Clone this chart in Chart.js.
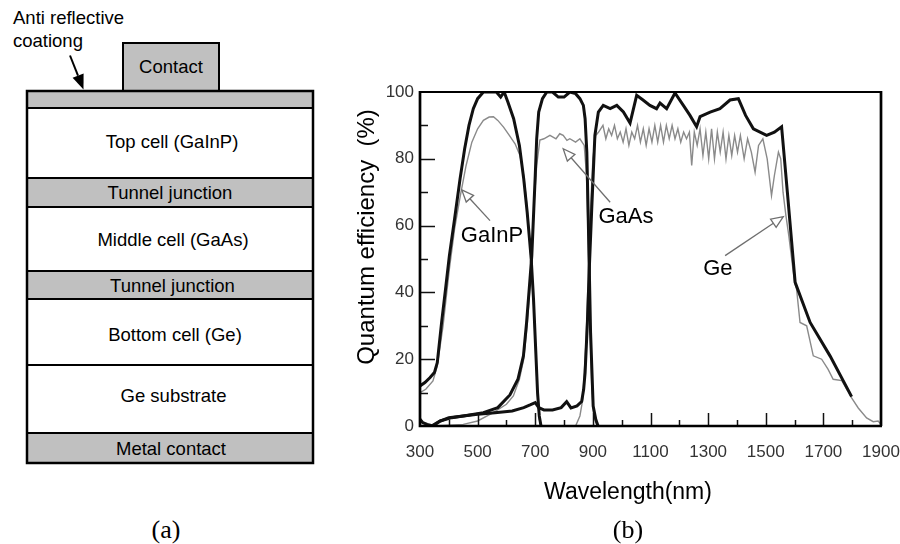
<!DOCTYPE html>
<html>
<head>
<meta charset="utf-8">
<title>Triple-junction cell and quantum efficiency</title>
<script src="https://cdn.jsdelivr.net/npm/chart.js@4.4.1/dist/chart.umd.min.js"></script>
<style>
  html, body { margin: 0; padding: 0; background: #fff; }
  body { width: 900px; height: 544px; position: relative; overflow: hidden; }
  #cell { position: absolute; left: 0; top: 0; }
  #qe { position: absolute; left: 330px; top: 0; }
  .panel { position: absolute; top: 515px; width: 100px; text-align: center; line-height: 30px;
           font: 26px "Liberation Serif", "Times New Roman", serif; color: #000; }
</style>
</head>
<body>

<!-- layer stack of the cell -->
<svg id="cell" width="330" height="480" xmlns="http://www.w3.org/2000/svg">
  <g font-family="'Liberation Sans', Arial, sans-serif" font-size="18.5" fill="#000">
    <text x="13" y="24">Anti reflective</text>
    <text x="13" y="47">coationg</text>
  </g>
  <line x1="70" y1="55.5" x2="78" y2="75.6" stroke="#000" stroke-width="2"/>
  <polygon points="83.5,89.5 72.6,77.7 83.6,73.5" fill="#000"/>

  <g stroke="#000" stroke-width="2">
    <rect x="123" y="43" width="96" height="48" fill="#c0c0c0"/>
    <rect x="27" y="91" width="286" height="17" fill="#c0c0c0"/>
    <rect x="27" y="108" width="286" height="70" fill="#fff"/>
    <rect x="27" y="178" width="286" height="29" fill="#c0c0c0"/>
    <rect x="27" y="207" width="286" height="64" fill="#fff"/>
    <rect x="27" y="271" width="286" height="28" fill="#c0c0c0"/>
    <rect x="27" y="299" width="286" height="66" fill="#fff"/>
    <rect x="27" y="365" width="286" height="68" fill="#fff"/>
    <rect x="27" y="433" width="286" height="30" fill="#c0c0c0"/>
    <rect x="27" y="91" width="286" height="372" fill="none" stroke-width="2.5"/>
  </g>

  <g font-family="'Liberation Sans', Arial, sans-serif" font-size="18.5" fill="#000"
     text-anchor="middle" style="white-space:pre">
    <text x="171" y="73">Contact</text>
    <text x="172" y="148">Top cell (GaInP)</text>
    <text x="170" y="199">Tunnel junction</text>
    <text x="173" y="246">Middle cell (GaAs)</text>
    <text x="172.5" y="292">Tunnel junction</text>
    <text x="175" y="341">Bottom  cell (Ge)</text>
    <text x="173.5" y="402">Ge substrate</text>
    <text x="171" y="455">Metal contact</text>
  </g>
</svg>

<canvas id="qe" width="570" height="544"></canvas>

<div class="panel" style="left:116px">(a)</div>
<div class="panel" style="left:578px">(b)</div>

<script>
// Quantum efficiency of the three subcells, wavelength in nm, QE in %.
// Each subcell has a bold trace and a lighter second trace.

// GaInP top cell
const gainpWl = [300, 317, 335, 350, 360, 375, 390, 402, 420, 439, 455, 470, 485, 500, 520, 545, 565, 580, 592, 605, 625, 645, 660, 672, 680, 686, 694, 701, 708, 714, 720];
const gainpQe = [12, 13, 14.5, 16, 19, 31, 42, 51, 62, 74, 83, 90, 95, 98, 100, 100, 100, 98.5, 100, 97, 92, 84, 74, 64, 56, 50, 38, 24, 10, 3, 0];
const gainpWl2 = [300, 320, 345, 360, 380, 402, 420, 440, 460, 480, 500, 520, 540, 555, 570, 590, 610, 630, 647, 660, 670, 680, 686, 694, 701, 708, 714, 720];
const gainpQe2 = [10, 11, 13.5, 18, 30, 47, 59, 69, 78, 85, 89, 91.5, 92.5, 92.6, 91.5, 89.5, 87, 84.5, 81, 75, 67, 56, 49, 37, 23, 9, 2, 0];

// GaAs middle cell
const gaasWl = [340, 370, 410, 450, 520, 570, 612, 640, 659, 670, 680, 688, 695, 700, 705, 712, 725, 740, 760, 780, 800, 820, 840, 855, 867, 873, 879, 884, 888, 892, 901, 910, 918];
const gaasQe = [0, 1.5, 2.5, 3, 4, 5.5, 9.3, 14, 21, 31, 42, 51, 65, 75, 86, 94, 98, 100, 100, 98.5, 98.5, 100, 99.5, 98, 96, 92, 82, 62, 45, 28, 6, 2, 0];
const gaasWl2 = [350, 450, 500, 554, 600, 624, 645, 660, 672, 682, 690, 697, 705, 716, 730, 751, 772, 785, 797, 810, 820, 840, 855, 870, 878, 884, 890, 896, 902, 910, 920];
const gaasQe2 = [0, 0.5, 1.5, 4, 6.5, 9, 14, 20, 30, 42, 55, 68, 78, 85.6, 86, 87, 86, 87.5, 87, 85.5, 86, 85, 86, 84, 75, 55, 30, 12, 4, 1, 0];

// Ge bottom cell
const geWl = [300, 310, 325, 345, 370, 400, 450, 500, 560, 620, 660, 682, 700, 712, 730, 760, 790, 809, 824, 845, 861, 868, 873, 881, 888, 896, 907, 919, 936, 960, 983, 1006, 1029, 1052, 1074, 1098, 1121, 1133, 1156, 1185, 1214, 1237, 1260, 1272, 1307, 1341, 1376, 1405, 1430, 1457, 1503, 1530, 1555, 1575, 1602, 1654, 1723, 1798];
const geQe = [2, 1, 0.5, 0, 1.5, 2.5, 3, 3.5, 4, 4.5, 5.5, 6.3, 7, 5.5, 4.8, 4.8, 5.5, 7.3, 5.4, 6, 7.3, 11, 16, 31, 48, 65, 87, 94, 96, 95, 96, 94, 90.7, 99, 97.6, 96, 95, 96.7, 95, 99.7, 96, 93, 89.6, 92.6, 94, 95, 97.6, 98, 93, 89, 87, 88, 89.6, 70, 43, 31, 21, 8.8];
const geWl2 = [840, 855, 865, 876, 884, 892, 900, 910, 920,
  935, 945, 955, 965, 975, 985, 995, 1005, 1015, 1025, 1035, 1045, 1055, 1065, 1075, 1085, 1095, 1105, 1115, 1125, 1135, 1145, 1155, 1165, 1175, 1185, 1195, 1205, 1215, 1225, 1235,
  1243, 1252, 1262, 1272, 1282, 1292, 1302, 1312, 1322, 1332, 1342, 1352, 1362, 1372, 1382, 1392, 1402, 1412,
  1425, 1437, 1450, 1463, 1475, 1490, 1505, 1520, 1530, 1544, 1552, 1560, 1570, 1580, 1590, 1600,
  1607, 1619, 1642, 1665, 1694, 1716, 1734, 1764, 1798, 1821, 1850, 1873, 1890, 1900];
const geQe2 = [0, 3, 8, 25, 45, 65, 80, 87, 88,
  90, 86, 89, 87, 90, 86, 88, 85, 89, 84, 88, 86, 90, 85, 89, 84, 89, 85, 90, 85, 90, 85, 90, 86, 90, 86, 89, 85, 88, 86, 88,
  78, 88, 84, 89, 81, 88, 80, 89, 80, 88, 82, 88, 80, 87, 81, 87, 82, 87,
  80, 86, 82, 76, 84, 86, 80, 69, 75, 82, 80, 70, 63, 57, 50, 43,
  41, 31, 30, 21, 20, 17, 14, 13.6, 8.4, 5.4, 2.4, 1.3, 1.5, 0.5];

// Axis ranges and tick steps
const wlMin = 300, wlMax = 1900, wlStep = 200;
const qeMin = 0, qeMax = 100, qeStep = 20;

// Subcell names with where they sit and where their pointer goes (wavelength, QE)
const noteText = ['GaInP', 'GaAs', 'Ge'];
const noteAt = [[550, 57], [1015, 62.5], [1334, 47]];
const noteFrom = [[543, 61.5], [960, 67], [1359, 51]];
const noteTo = [[445, 70.7], [797, 83], [1561, 62.7]];

const FONT = "'Liberation Sans', Arial, sans-serif";
const toPoints = (xs, ys) => xs.map((x, i) => ({ x, y: ys[i] }));

const bold = (label, xs, ys) => ({
  label, data: toPoints(xs, ys), showLine: true,
  borderColor: '#111', borderWidth: 3, pointRadius: 0, tension: 0
});
const light = (label, xs, ys) => ({
  label, data: toPoints(xs, ys), showLine: true,
  borderColor: '#8a8a8a', borderWidth: 1.4, pointRadius: 0, tension: 0
});

// frame, inward ticks, axis titles and the subcell pointers
const frameAndNotes = {
  id: 'frameAndNotes',
  afterDatasetsDraw(chart) {
    const { ctx, chartArea: a, scales: { x, y } } = chart;
    ctx.save();

    ctx.strokeStyle = '#111';
    ctx.lineWidth = 1.5;
    for (let v = qeMin + 10; v < qeMax; v += 10) {
      const py = Math.round(y.getPixelForValue(v)) + 0.5;
      const len = v % qeStep === 0 ? 15 : 8;
      ctx.beginPath(); ctx.moveTo(a.left, py); ctx.lineTo(a.left + len, py); ctx.stroke();
    }
    for (let v = wlMin + 100; v < wlMax; v += 100) {
      const px = Math.round(x.getPixelForValue(v)) + 0.5;
      const len = (v - wlMin) % wlStep === 0 ? 13 : 6;
      ctx.beginPath(); ctx.moveTo(px, a.bottom); ctx.lineTo(px, a.bottom - len); ctx.stroke();
    }

    ctx.strokeStyle = '#000';
    ctx.lineWidth = 1.8;
    ctx.beginPath(); ctx.moveTo(a.left, a.top); ctx.lineTo(a.right, a.top); ctx.stroke();
    ctx.lineWidth = 2.7;
    ctx.beginPath(); ctx.moveTo(a.right, a.top - 1); ctx.lineTo(a.right, a.bottom); ctx.stroke();
    ctx.beginPath(); ctx.moveTo(a.left, a.top - 1); ctx.lineTo(a.left, a.bottom);
    ctx.lineTo(a.right + 1, a.bottom); ctx.stroke();

    // pointers with open heads
    ctx.strokeStyle = '#6e6e6e';
    ctx.lineWidth = 1.3;
    noteFrom.forEach((f, i) => {
      const x0 = x.getPixelForValue(f[0]), y0 = y.getPixelForValue(f[1]);
      const x1 = x.getPixelForValue(noteTo[i][0]), y1 = y.getPixelForValue(noteTo[i][1]);
      const len = Math.hypot(x1 - x0, y1 - y0);
      const ux = (x1 - x0) / len, uy = (y1 - y0) / len;
      const bx = x1 - ux * 12, by = y1 - uy * 12;
      ctx.beginPath(); ctx.moveTo(x0, y0); ctx.lineTo(bx, by); ctx.stroke();
      ctx.beginPath();
      ctx.moveTo(x1, y1);
      ctx.lineTo(bx - uy * 5, by + ux * 5);
      ctx.lineTo(bx + uy * 5, by - ux * 5);
      ctx.closePath();
      ctx.fillStyle = '#fff';
      ctx.fill();
      ctx.stroke();
    });

    ctx.fillStyle = '#000';
    ctx.font = '22px ' + FONT;
    ctx.textAlign = 'center';
    ctx.textBaseline = 'middle';
    noteText.forEach((t, i) => {
      ctx.fillText(t, x.getPixelForValue(noteAt[i][0]), y.getPixelForValue(noteAt[i][1]));
    });

    // axis titles
    ctx.font = '23px ' + FONT;
    ctx.fillText('Wavelength(nm)', 298, 493);
    ctx.translate(37, 237);
    ctx.rotate(-Math.PI / 2);
    ctx.font = '24px ' + FONT;
    ctx.fillText('Quantum efficiency  (%)', 0, 0);

    ctx.restore();
  }
};

new Chart(document.getElementById('qe'), {
  type: 'scatter',
  data: {
    datasets: [
      bold('GaInP', gainpWl, gainpQe),
      bold('GaAs', gaasWl, gaasQe),
      bold('Ge', geWl, geQe),
      light('GaInP (2)', gainpWl2, gainpQe2),
      light('GaAs (2)', gaasWl2, gaasQe2),
      light('Ge (2)', geWl2, geQe2)
    ]
  },
  options: {
    responsive: false,
    animation: false,
    devicePixelRatio: 1,
    layout: { padding: { left: 19, right: 19, top: 92, bottom: 0 } },
    plugins: { legend: { display: false }, tooltip: { enabled: false } },
    scales: {
      x: {
        type: 'linear', min: wlMin, max: wlMax,
        grid: { display: false, drawTicks: false },
        border: { display: false },
        ticks: {
          stepSize: wlStep, padding: 16, color: '#333', font: { family: FONT, size: 17 },
          callback: (v) => String(v)
        },
        afterFit(s) { s.height = 118; s.paddingLeft = 0; s.paddingRight = 0; }
      },
      y: {
        min: qeMin, max: qeMax,
        grid: { display: false, drawTicks: false },
        border: { display: false },
        ticks: {
          stepSize: qeStep, padding: 6, color: '#333', font: { family: FONT, size: 17 },
          callback: (v) => String(v)
        },
        afterFit(s) { s.width = 71; s.paddingTop = 0; s.paddingBottom = 0; }
      }
    }
  },
  plugins: [frameAndNotes]
});
</script>
</body>
</html>
